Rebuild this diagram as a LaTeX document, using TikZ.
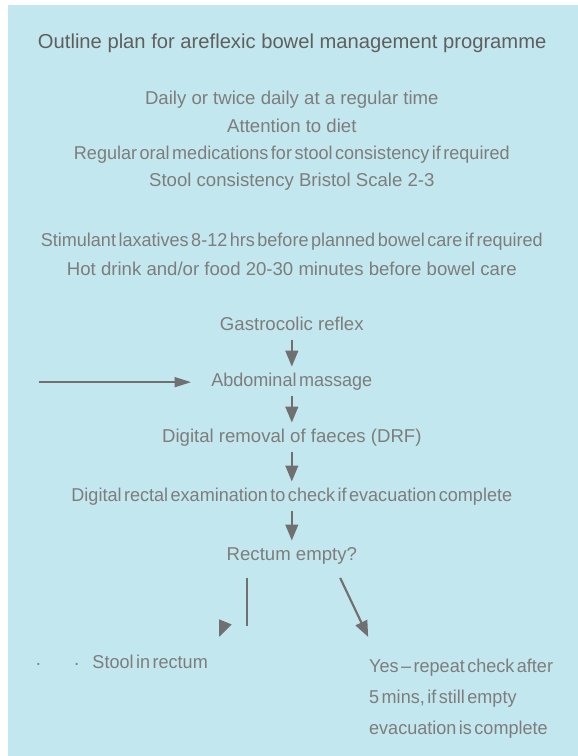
\documentclass[tikz,border=0pt]{standalone}
\usepackage{fontspec}
\setmainfont{Liberation Sans}
\newfontfamily\tightfont[FakeStretch=0.97,WordSpace=0.5]{Liberation Sans}
\usetikzlibrary{arrows.meta,positioning}
\definecolor{bgblue}{RGB}{195,231,238}
\definecolor{textgray}{RGB}{125,125,125}
\definecolor{titlegray}{RGB}{95,95,95}
\definecolor{arrowgray}{RGB}{112,112,112}

\begin{document}
\begin{tikzpicture}[
  txt/.style={text=textgray, inner sep=0pt, text height=10pt, text depth=3pt, font=\fontsize{14}{16}\selectfont},
  tight/.style={txt, font=\tightfont\fontsize{14}{16}\selectfont},
  flow/.style={draw=arrowgray, line width=1.6pt, -{Triangle[length=12pt,width=9.5pt]}, shorten <=4pt, shorten >=5pt},
  sideflow/.style={draw=arrowgray, line width=1.4pt, -{Triangle[length=12.5pt,width=7.5pt]}, shorten >=15pt},
  stem/.style={draw=arrowgray, line width=1.6pt}
]
\useasboundingbox (0,0) rectangle (15.29,-20);
\fill[bgblue] (0.21,-0.13) rectangle (15.29,-20);

\node[txt, text=titlegray, font=\fontsize{15.2}{18}\selectfont] (title) at (7.73,-1.16) {Outline plan for areflexic bowel management programme};

\node[txt] (daily) at (7.72,-2.65) {Daily or twice daily at a regular time};
\node[txt] (diet) at (7.72,-3.37) {Attention to diet};
\node[tight] (meds) at (7.72,-4.10) {Regular oral medications for stool consistency if required};
\node[txt] (bristol) at (7.72,-4.82) {Stool consistency Bristol Scale 2-3};

\node[tight] (laxat) at (7.72,-6.39) {Stimulant laxatives 8-12 hrs before planned bowel care if required};
\node[txt] (drink) at (7.72,-7.17) {Hot drink and/or food 20-30 minutes before bowel care};

\node[txt] (gastro) at (7.72,-8.63) {Gastrocolic reflex};
\node[tight] (massage) at (7.72,-10.11) {Abdominal massage};
\node[txt] (drf) at (7.72,-11.59) {Digital removal of faeces (DRF)};
\node[tight] (dre) at (7.72,-13.15) {Digital rectal examination to check if evacuation complete};
\node[txt] (empty) at (7.72,-14.71) {Rectum empty?};

\node[txt] (dot1) at (1.02,-17.59) {·};
\node[txt] (dot2) at (2.03,-17.59) {·};
\node[tight, anchor=west] (stool) at (2.44,-17.57) {Stool in rectum};
\node[text=textgray, inner sep=0pt, align=left, anchor=north west, font=\tightfont\fontsize{14}{23.6}\selectfont] (yes) at (9.76,-17.42) {Yes – repeat check after\\5 mins, if still empty\\evacuation is complete};

\coordinate (massin) at (1.03,-10.11);
\coordinate (notop) at (6.535,-15.29);
\coordinate (nobot) at (6.535,-16.56);
\coordinate (yestop) at (9.00,-15.29);
\coordinate (yestip) at (9.74,-16.85);

\draw[flow] (gastro) -- (massage);
\draw[flow] (massage) -- (drf);
\draw[flow] (drf) -- (dre);
\draw[flow] (dre) -- (empty);
\draw[sideflow] (massin) -- (massage);

\draw[stem] (notop) -- (nobot);
\fill[arrowgray] (5.80,-16.385) -- (6.13,-16.52) -- (5.80,-16.845) -- cycle;
\draw[flow, shorten <=0pt, shorten >=0pt] (yestop) -- (yestip);
\end{tikzpicture}
\end{document}
